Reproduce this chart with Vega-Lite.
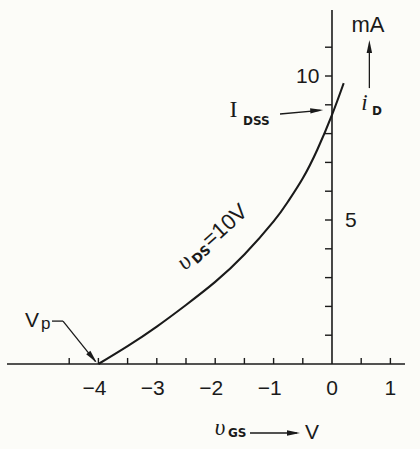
{
  "$schema": "https://vega.github.io/schema/vega-lite/v6.json",
  "width": 420,
  "height": 449,
  "autosize": {"type": "none"},
  "padding": 0,
  "background": "#fcfcf8",
  "config": {"view": {"stroke": null}},
  "datasets": {
    "curve": [
      {"x": -4.0, "y": 0.0},
      {"x": -3.5, "y": 0.62},
      {"x": -3.0, "y": 1.3},
      {"x": -2.5, "y": 2.05},
      {"x": -2.0, "y": 2.85},
      {"x": -1.5, "y": 3.8},
      {"x": -1.0, "y": 4.95},
      {"x": -0.75, "y": 5.65},
      {"x": -0.5, "y": 6.45},
      {"x": -0.25, "y": 7.45},
      {"x": 0.0, "y": 8.65},
      {"x": 0.2, "y": 9.75}
    ],
    "axes": [
      {"x": -5.565, "y": 0, "x2": 1.25, "y2": 0},
      {"x": 0, "y": 0, "x2": 0, "y2": 12.29}
    ],
    "ticks": [
      {"x": -4.5, "y": 0, "x2": -4.5, "y2": 0.21},
      {"x": -4.0, "y": 0, "x2": -4.0, "y2": 0.21},
      {"x": -3.5, "y": 0, "x2": -3.5, "y2": 0.21},
      {"x": -3.0, "y": 0, "x2": -3.0, "y2": 0.21},
      {"x": -2.5, "y": 0, "x2": -2.5, "y2": 0.21},
      {"x": -2.0, "y": 0, "x2": -2.0, "y2": 0.21},
      {"x": -1.5, "y": 0, "x2": -1.5, "y2": 0.21},
      {"x": -1.0, "y": 0, "x2": -1.0, "y2": 0.21},
      {"x": -0.5, "y": 0, "x2": -0.5, "y2": 0.21},
      {"x": 0.5, "y": 0, "x2": 0.5, "y2": 0.21},
      {"x": 1.0, "y": 0, "x2": 1.0, "y2": 0.21},
      {"x": -0.12, "y": 1, "x2": 0, "y2": 1},
      {"x": -0.12, "y": 2, "x2": 0, "y2": 2},
      {"x": -0.12, "y": 3, "x2": 0, "y2": 3},
      {"x": -0.12, "y": 4, "x2": 0, "y2": 4},
      {"x": -0.12, "y": 5, "x2": 0, "y2": 5},
      {"x": -0.12, "y": 6, "x2": 0, "y2": 6},
      {"x": -0.12, "y": 7, "x2": 0, "y2": 7},
      {"x": -0.12, "y": 8, "x2": 0, "y2": 8},
      {"x": -0.12, "y": 9, "x2": 0, "y2": 9},
      {"x": -0.12, "y": 10, "x2": 0, "y2": 10},
      {"x": -0.12, "y": 11, "x2": 0, "y2": 11}
    ],
    "arrows": [
      {"x": -0.89, "y": 8.68, "x2": -0.2, "y2": 8.81},
      {"x": -4.795, "y": 1.49, "x2": -4.606, "y2": 1.49},
      {"x": -4.606, "y": 1.49, "x2": -4.05, "y2": 0.08},
      {"x": 0.64, "y": 9.58, "x2": 0.64, "y2": 11.0},
      {"x": -1.404, "y": -2.396, "x2": -0.6, "y2": -2.396}
    ],
    "heads": [
      {"x": -0.15, "y": 8.82, "angle": 86},
      {"x": -4.03, "y": 0.05, "angle": 140},
      {"x": 0.64, "y": 11.25, "angle": 0},
      {"x": -0.548, "y": -2.396, "angle": 90}
    ],
    "xlabNeg": [
      {"x": -4, "y": -1.06, "t": "−4"},
      {"x": -3, "y": -1.06, "t": "−3"},
      {"x": -2, "y": -1.06, "t": "−2"},
      {"x": -1, "y": -1.06, "t": "−1"}
    ],
    "xlabPos": [
      {"x": 0, "y": -1.06, "t": "0"},
      {"x": 1, "y": -1.06, "t": "1"}
    ]
  },
  "encoding": {
    "x": {"field": "x", "type": "quantitative", "scale": {"domain": [-5.685, 1.507], "nice": false, "zero": false}, "axis": null},
    "y": {"field": "y", "type": "quantitative", "scale": {"domain": [-2.951, 12.639], "nice": false, "zero": false}, "axis": null}
  },
  "layer": [
    {
      "data": {"name": "axes"},
      "mark": {"type": "rule", "color": "#1a1a1a", "strokeWidth": 1.6},
      "encoding": {"x2": {"field": "x2"}, "y2": {"field": "y2"}}
    },
    {
      "data": {"name": "ticks"},
      "mark": {"type": "rule", "color": "#1a1a1a", "strokeWidth": 1.4},
      "encoding": {"x2": {"field": "x2"}, "y2": {"field": "y2"}}
    },
    {
      "data": {"name": "arrows"},
      "mark": {"type": "rule", "color": "#1a1a1a", "strokeWidth": 1.3},
      "encoding": {"x2": {"field": "x2"}, "y2": {"field": "y2"}}
    },
    {
      "data": {"name": "heads"},
      "mark": {"type": "point", "shape": "M0,0L0.42,2L-0.42,2Z", "filled": true, "size": 169, "color": "#1a1a1a", "opacity": 1},
      "encoding": {"angle": {"field": "angle", "type": "quantitative", "scale": null}}
    },
    {
      "data": {"name": "curve"},
      "mark": {"type": "line", "color": "#1a1a1a", "strokeWidth": 2.1, "interpolate": "natural"}
    },
    {
      "data": {"name": "xlabNeg"},
      "mark": {"type": "text", "font": "Liberation Sans", "fontSize": 21, "align": "center", "baseline": "alphabetic", "dx": -4, "color": "#1a1a1a"},
      "encoding": {"text": {"field": "t", "type": "nominal"}}
    },
    {
      "data": {"name": "xlabPos"},
      "mark": {"type": "text", "font": "Liberation Sans", "fontSize": 21, "align": "center", "baseline": "alphabetic", "color": "#1a1a1a"},
      "encoding": {"text": {"field": "t", "type": "nominal"}}
    },
    {
      "data": {"values": [{"x": -0.217, "y": 9.77, "t": "10"}]},
      "mark": {"type": "text", "font": "Liberation Sans", "fontSize": 21, "align": "right", "baseline": "alphabetic", "color": "#1a1a1a"},
      "encoding": {"text": {"field": "t", "type": "nominal"}}
    },
    {
      "data": {"values": [{"x": 0.223, "y": 4.74, "t": "5"}, {"x": -5.257, "y": 1.285, "t": "V"}, {"x": -0.462, "y": -2.604, "t": "V"}]},
      "mark": {"type": "text", "font": "Liberation Sans", "fontSize": 21, "align": "left", "baseline": "alphabetic", "color": "#1a1a1a"},
      "encoding": {"text": {"field": "t", "type": "nominal"}}
    },
    {
      "data": {"values": [{"x": 0.616, "y": 11.53, "t": "mA"}]},
      "mark": {"type": "text", "font": "Liberation Sans", "fontSize": 22, "align": "center", "baseline": "alphabetic", "color": "#1a1a1a"},
      "encoding": {"text": {"field": "t", "type": "nominal"}}
    },
    {
      "data": {"values": [{"x": -4.983, "y": 1.215, "t": "p"}]},
      "mark": {"type": "text", "font": "Liberation Sans", "fontSize": 17, "align": "left", "baseline": "alphabetic", "color": "#1a1a1a"},
      "encoding": {"text": {"field": "t", "type": "nominal"}}
    },
    {
      "data": {"values": [{"x": -1.687, "y": 8.58, "t": "I"}]},
      "mark": {"type": "text", "font": "Liberation Serif", "fontSize": 24, "align": "center", "baseline": "alphabetic", "color": "#1a1a1a"},
      "encoding": {"text": {"field": "t", "type": "nominal"}}
    },
    {
      "data": {"values": [{"x": 0.556, "y": 8.82, "t": "i"}, {"x": -1.918, "y": -2.465, "t": "υ"}]},
      "mark": {"type": "text", "font": "Liberation Serif", "fontStyle": "italic", "fontSize": 23, "align": "center", "baseline": "alphabetic", "color": "#1a1a1a"},
      "encoding": {"text": {"field": "t", "type": "nominal"}}
    },
    {
      "data": {"values": [{"x": -1.524, "y": 8.3, "t": "DSS"}, {"x": -1.781, "y": -2.535, "t": "GS"}, {"x": 0.685, "y": 8.65, "t": "D"}]},
      "mark": {"type": "text", "font": "DejaVu Sans", "fontWeight": "bold", "fontSize": 12, "align": "left", "baseline": "alphabetic", "color": "#1a1a1a"},
      "encoding": {"text": {"field": "t", "type": "nominal"}}
    },
    {
      "data": {"values": [{"x": -2.517, "y": 3.229, "t": "υ"}]},
      "mark": {"type": "text", "font": "Liberation Serif", "fontStyle": "italic", "fontSize": 24, "align": "left", "baseline": "alphabetic", "angle": 318, "color": "#1a1a1a"},
      "encoding": {"text": {"field": "t", "type": "nominal"}}
    },
    {
      "data": {"values": [{"x": -2.517, "y": 3.229, "t": "DS"}]},
      "mark": {"type": "text", "font": "DejaVu Sans", "fontWeight": "bold", "fontSize": 13, "align": "left", "baseline": "alphabetic", "angle": 318, "dx": 13, "dy": 3, "color": "#1a1a1a"},
      "encoding": {"text": {"field": "t", "type": "nominal"}}
    },
    {
      "data": {"values": [{"x": -2.517, "y": 3.229, "t": "=10V"}]},
      "mark": {"type": "text", "font": "Liberation Sans", "fontSize": 22, "align": "left", "baseline": "alphabetic", "angle": 318, "dx": 34, "color": "#1a1a1a"},
      "encoding": {"text": {"field": "t", "type": "nominal"}}
    }
  ]
}
